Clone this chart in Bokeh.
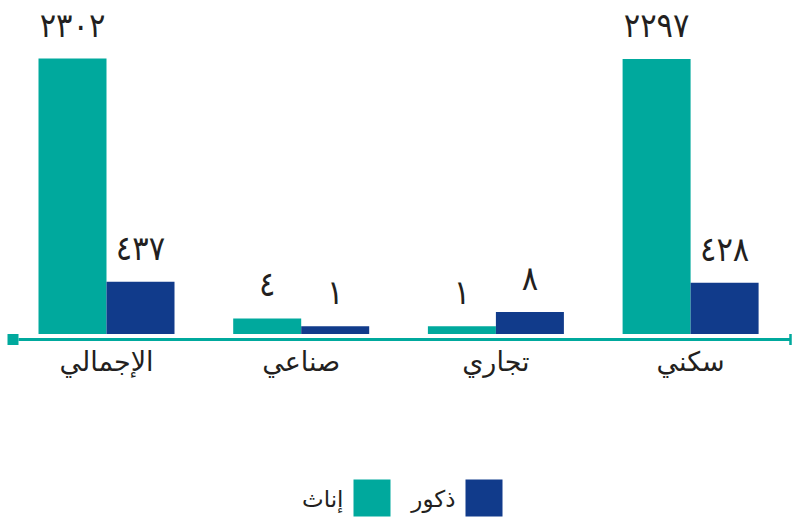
import numpy as np
from bokeh.plotting import figure
from bokeh.models import Range1d
from bokeh.core.properties import value
from bokeh.embed import file_html
from bokeh.resources import INLINE

# ---- data ----
categories = ["الإجمالي", "صناعي", "تجاري", "سكني"]
females = [2302, 4, 1, 2297]      # إناث
males = [437, 1, 8, 428]          # ذكور
female_labels = ["٢٣٠٢", "٤", "١", "٢٢٩٧"]
male_labels = ["٤٣٧", "١", "٨", "٤٢٨"]
legend_labels = ["إناث", "ذكور"]

TEAL = "#00a99d"
NAVY = "#113b8b"
TXT = "#231f20"
FONT = "DejaVu Sans"
NUMFONT = "DejaVu Sans Condensed"

# ---- layout (pixels) ----
W, H = 792, 518
x0_px, step_px = 106.0, 194.7       # first group centre / group spacing
base_px = 333.5                     # baseline from top
k = 2302 / 275.5                    # data units per pixel
bar_w = 68.0 / step_px

def xd(px):
    return (px - x0_px) / step_px

def yd(px_from_top):
    return (base_px - px_from_top) * k

def shown(v):
    v = np.asarray(v, dtype=float)
    # tiny values magnified so they stay visible (as in the original)
    return np.where(v < 50, 65 * np.sqrt(v), v)

idx = np.arange(len(categories))
fs = shown(females)
ms = shown(males)

p = figure(width=W, height=H, output_backend="svg", toolbar_location=None,
           x_range=Range1d(xd(0), xd(W)), y_range=Range1d(yd(H), yd(0)),
           min_border=0, outline_line_color=None)
p.axis.visible = False
p.grid.visible = False
p.background_fill_color = "white"

off = bar_w / 2
p.vbar(x=idx - off, top=fs, bottom=0, width=bar_w, fill_color=TEAL, line_color=None)
p.vbar(x=idx + off, top=ms, bottom=0, width=bar_w, fill_color=NAVY, line_color=None)

gap = 34 * k
p.text(x=idx - off, y=fs + gap, text=female_labels, text_align="center",
       text_baseline="alphabetic", text_font=value(NUMFONT), text_font_size="34px",
       text_color=TXT)
p.text(x=idx + off, y=ms + gap, text=male_labels, text_align="center",
       text_baseline="alphabetic", text_font=value(NUMFONT), text_font_size="34px",
       text_color=TXT)

# axis line with end markers
p.segment(x0=[xd(18)], y0=[yd(339)], x1=[xd(790)], y1=[yd(339)],
          line_color=TEAL, line_width=3)
p.scatter(x=[xd(12.5)], y=[yd(339)], marker="square", size=11,
          fill_color=TEAL, line_color=None)
p.segment(x0=[xd(790)], y0=[yd(333.5)], x1=[xd(790)], y1=[yd(344.5)],
          line_color=TEAL, line_width=2.5)

# category labels
p.text(x=idx, y=[yd(361)] * len(categories), text=categories, text_align="center",
       text_baseline="middle", text_font=value(FONT), text_font_size="27px",
       text_color=TXT)

# legend (right-to-left)
p.scatter(x=[xd(483.5), xd(371.5)], y=[yd(497.5)] * 2, marker="square", size=37,
          fill_color=[NAVY, TEAL], line_color=None)
p.text(x=[xd(455), xd(343)], y=[yd(498)] * 2, text=[legend_labels[1], legend_labels[0]],
       text_align="right", text_baseline="middle", text_font=value(FONT),
       text_font_size="23px", text_color=TXT)

open("out.html", "w").write(file_html(p, INLINE))
